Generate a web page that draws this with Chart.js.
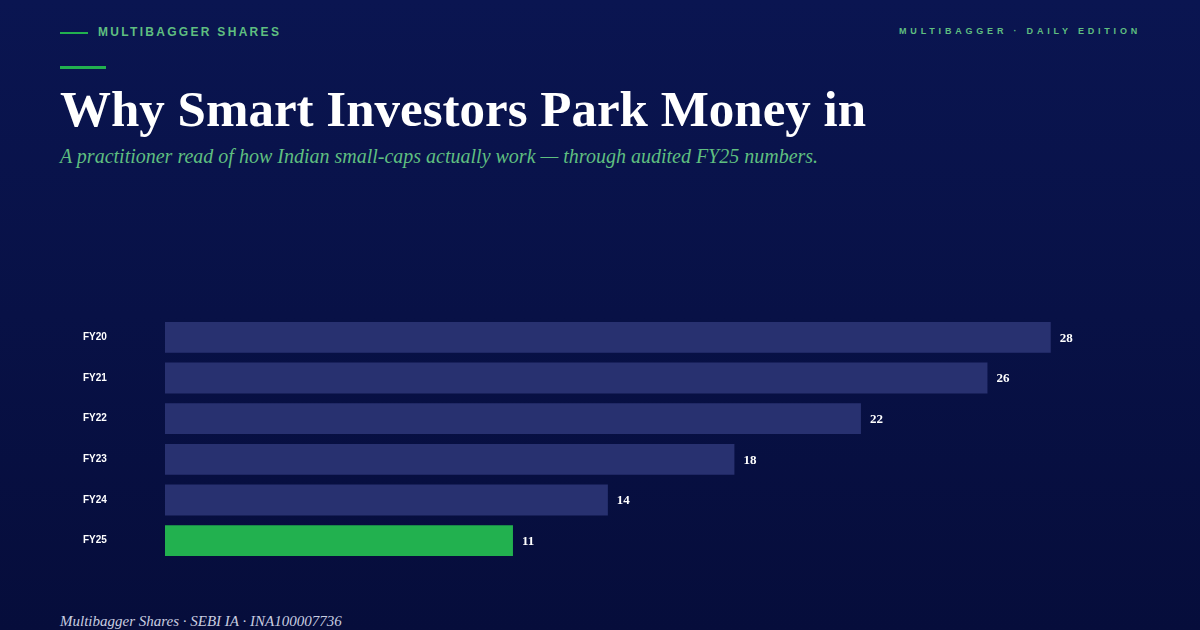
<!DOCTYPE html>
<html><head><meta charset="utf-8">
<script src="https://cdn.jsdelivr.net/npm/chart.js@4"></script>
<style>
body{margin:0;width:1200px;height:630px;overflow:hidden;background:linear-gradient(#0a1551,#060d3b);font-family:"Liberation Serif",serif;position:relative}
.kick{position:absolute;left:60px;top:25px;color:#5fbf80;font:bold 12px "Liberation Sans",sans-serif;letter-spacing:2.3px}
.kick:before{content:"";display:inline-block;width:28px;height:2px;background:#22b14f;vertical-align:middle;margin-right:10px}
.ed{position:absolute;right:59px;top:26px;color:#5fbf80;font:bold 9px "Liberation Sans",sans-serif;letter-spacing:3.8px}
.rule{position:absolute;left:60px;top:66px;width:46px;height:3px;background:#22b14f}
h1{position:absolute;left:60px;top:80px;margin:0;color:#fff;font:bold 51px "Liberation Serif",serif}
.sub{position:absolute;left:60px;top:145px;color:#5fbf80;font:italic 20px "Liberation Serif",serif}
.foot{position:absolute;left:60px;top:613px;color:#c9cde0;font:italic 15px "Liberation Serif",serif}
#wrap{position:absolute;left:83px;top:311px;width:1057px;height:256px}
</style></head><body>
<div class="kick">MULTIBAGGER SHARES</div>
<div class="ed">MULTIBAGGER · DAILY EDITION</div>
<div class="rule"></div>
<h1>Why Smart Investors Park Money in</h1>
<div class="sub">A practitioner read of how Indian small-caps actually work — through audited FY25 numbers.</div>
<div id="wrap"><canvas id="c"></canvas></div>
<div class="foot">Multibagger Shares · SEBI IA · INA100007736</div>
<script>
const years = ["FY20", "FY21", "FY22", "FY23", "FY24", "FY25"];
const values = [28, 26, 22, 18, 14, 11];
const barColors = ["#283170", "#283170", "#283170", "#283170", "#283170", "#22b14f"];

const valueLabels = {
    id: 'valueLabels',
    afterDatasetsDraw(chart) {
        const ctx = chart.ctx;
        ctx.save();
        ctx.fillStyle = '#ffffff';
        ctx.font = 'bold 13px "Liberation Serif", serif';
        ctx.textBaseline = 'middle';
        chart.getDatasetMeta(0).data.forEach((bar, i) => {
            ctx.fillText(values[i], bar.x + 9, bar.y + 1);
        });
        ctx.restore();
    }
};

new Chart(document.getElementById('c'), {
    type: 'bar',
    data: {
        labels: years,
        datasets: [{
            data: values,
            backgroundColor: barColors,
            categoryPercentage: 0.76,
            barPercentage: 1
        }]
    },
    options: {
        indexAxis: 'y',
        responsive: true,
        maintainAspectRatio: false,
        animation: false,
        layout: { padding: { right: 26 } },
        plugins: { legend: { display: false }, tooltip: { enabled: false } },
        scales: {
            x: { min: 0, max: 30, display: false },
            y: {
                grid: { display: false },
                border: { display: false },
                afterFit(axis) { axis.width = 82; },
                ticks: {
                    color: '#ffffff',
                    crossAlign: 'far',
                    padding: 0,
                    font: { family: 'Liberation Sans', size: 10, weight: 'bold' }
                }
            }
        }
    },
    plugins: [valueLabels]
});
</script>
</body></html>
